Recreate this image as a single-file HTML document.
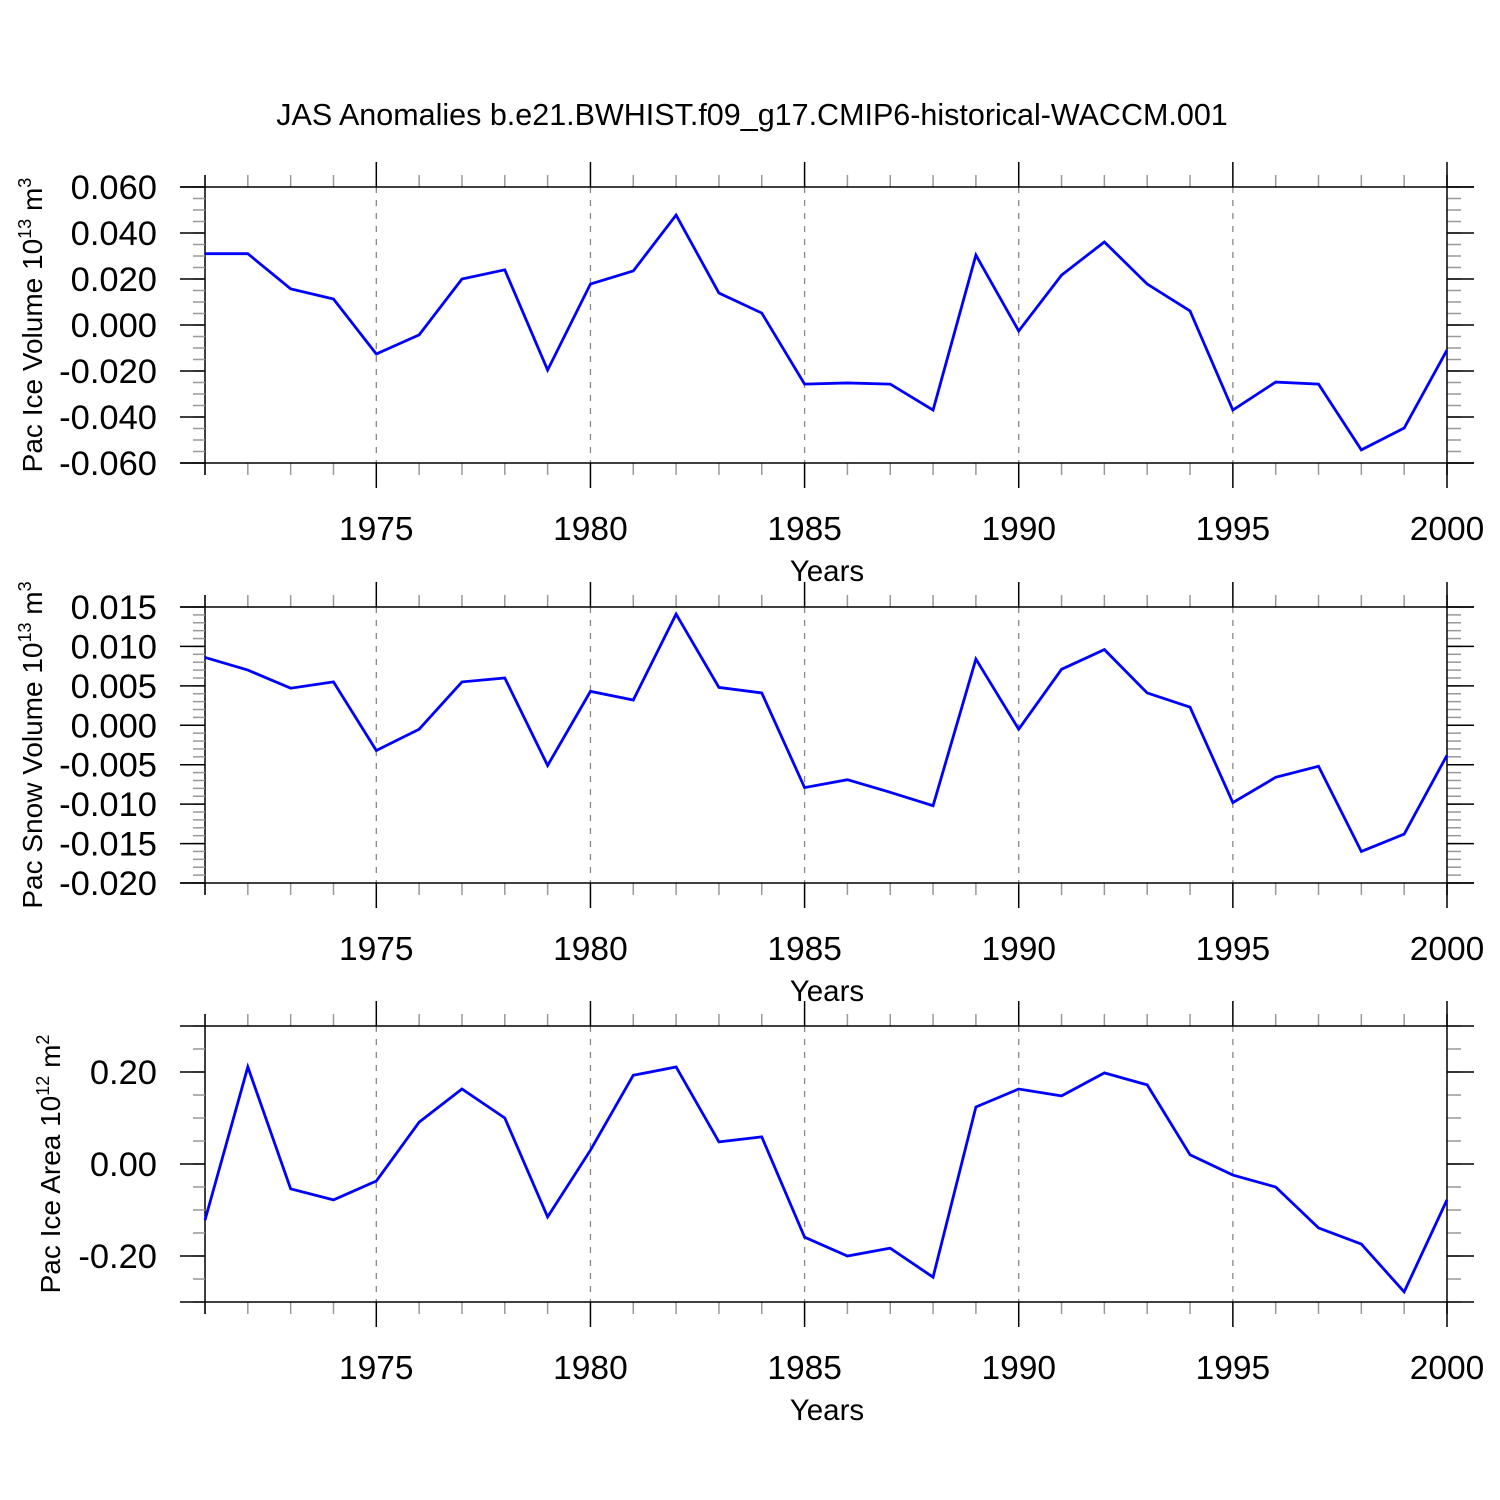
<!DOCTYPE html>
<html><head><meta charset="utf-8"><style>body{margin:0;background:#fff}svg{display:block}text{font-family:"Liberation Sans",sans-serif;fill:#000}</style></head>
<body>
<svg id="c" width="1500" height="1500" viewBox="0 0 1500 1500">
<text x="752" y="125" font-size="30.5" text-anchor="middle">JAS Anomalies b.e21.BWHIST.f09_g17.CMIP6-historical-WACCM.001</text>
</svg>
<script>
const years = [1971,1972,1973,1974,1975,1976,1977,1978,1979,1980,1981,1982,1983,1984,1985,1986,1987,1988,1989,1990,1991,1992,1993,1994,1995,1996,1997,1998,1999,2000];
const iceVolume = [0.031,0.031,0.0157,0.0113,-0.0126,-0.0043,0.020,0.024,-0.0196,0.0178,0.0235,0.0478,0.0139,0.0052,-0.0257,-0.0252,-0.0257,-0.037,0.0304,-0.0026,0.0217,0.0361,0.0178,0.0061,-0.037,-0.0248,-0.0257,-0.0543,-0.0448,-0.0109];
const snowVolume = [0.0086,0.007,0.0047,0.0055,-0.0032,-0.0005,0.0055,0.006,-0.0051,0.0043,0.0032,0.0141,0.0048,0.0041,-0.0079,-0.0069,-0.0085,-0.0102,0.0084,-0.0005,0.0071,0.0096,0.0041,0.0023,-0.0098,-0.0066,-0.0052,-0.016,-0.0138,-0.0038];
const iceArea = [-0.122,0.211,-0.054,-0.078,-0.037,0.091,0.163,0.1,-0.115,0.03,0.193,0.211,0.048,0.059,-0.159,-0.2,-0.183,-0.246,0.124,0.163,0.148,0.198,0.172,0.02,-0.024,-0.05,-0.139,-0.174,-0.278,-0.078];
const xTicks = [1975,1980,1985,1990,1995,2000];
const iceTicks = ["0.060","0.040","0.020","0.000","-0.020","-0.040","-0.060"];
const snowTicks = ["0.015","0.010","0.005","0.000","-0.005","-0.010","-0.015","-0.020"];
const areaTicks = ["0.20","0.00","-0.20"];

const svg = document.getElementById('c');
const NS = 'http://www.w3.org/2000/svg';
function mk(tag, attrs, parent){const e=document.createElementNS(NS,tag);for(const k in attrs)e.setAttribute(k,attrs[k]);(parent||svg).appendChild(e);return e;}
const L=205,R=1447;
const xs = y => L+(y-1971)*(R-L)/(2000-1971);

function panel(top, ymin, ymax, minorStep, ticks, data, name, titleMain, sup, unit, titleX){
  const bot=top+276;
  const ys = v => top+(ymax-v)*(bot-top)/(ymax-ymin);
  const g = mk('g',{});
  
  
  xTicks.forEach(t=>{ if(t<2000){ const l=mk('line',{x1:xs(t),x2:xs(t),y1:top,y2:bot,stroke:'#888','stroke-width':1.3,'stroke-dasharray':'6,7'},g);
    
    }});
  years.forEach(y=>{ const maj=xTicks.includes(y);
    mk('line',{x1:xs(y),x2:xs(y),y1:top,y2:top-(maj?25:12),stroke:maj?'#000':'#999','stroke-width':1.5},g);
    mk('line',{x1:xs(y),x2:xs(y),y1:bot,y2:bot+(maj?25:12),stroke:maj?'#000':'#999','stroke-width':1.5},g);});
  mk('line',{x1:L,x2:L,y1:top-12,y2:bot+12,stroke:'#000','stroke-width':1.5},g);
  const n=Math.round((ymax-ymin)/minorStep);
  for(let i=0;i<=n;i++){const v=ymin+i*minorStep;const y=ys(v);
    mk('line',{x1:L-12,x2:L,y1:y,y2:y,stroke:'#999','stroke-width':1.5},g);
    mk('line',{x1:R,x2:R+14,y1:y,y2:y,stroke:'#999','stroke-width':1.5},g);}
  ticks.forEach(t=>{const y=ys(parseFloat(t));
    mk('line',{x1:L-25,x2:L,y1:y,y2:y,stroke:'#000','stroke-width':1.5},g);
    mk('line',{x1:R,x2:R+27,y1:y,y2:y,stroke:'#000','stroke-width':1.5},g);
    const tx=mk('text',{x:157,y:y+12,'font-size':34.5,'text-anchor':'end'},g);tx.textContent=t;
    
    });
  mk('line',{x1:L-25,x2:R+27,y1:top,y2:top,stroke:'#000','stroke-width':1.5},g);
  mk('line',{x1:L-25,x2:R+27,y1:bot,y2:bot,stroke:'#000','stroke-width':1.5},g);
  mk('line',{x1:R,x2:R,y1:top-12,y2:bot+12,stroke:'#000','stroke-width':1.5},g);
  xTicks.forEach(t=>{const tx=mk('text',{x:xs(t),y:bot+77,'font-size':33.5,'text-anchor':'middle'},g);tx.textContent=t;
    
    });
  const xt=mk('text',{x:827,y:bot+118,'font-size':29.5,'text-anchor':'middle'},g);xt.textContent='Years';
  
  
  const yt=mk('text',{transform:`translate(${titleX},${(top+bot)/2}) rotate(-90)`,'font-size':28,'text-anchor':'middle'},g);
  
  
  const a=mk('tspan',{},yt);a.textContent=titleMain+' 10';
  const b=mk('tspan',{dy:-11,'font-size':18},yt);b.textContent=sup;
  const c=mk('tspan',{dy:11},yt);c.textContent=' m';
  const d=mk('tspan',{dy:-11,'font-size':18},yt);d.textContent=unit;
  const pts=data.map((v,i)=>xs(years[i])+','+ys(v)).join(' ');
  const pl=mk('polyline',{points:pts,fill:'none',stroke:'#0000ff','stroke-width':2.8,'stroke-linejoin':'miter'},g);
  
  
}
panel(187,-0.06,0.06,0.005,iceTicks,iceVolume,'ice-volume','Pac Ice Volume','13','3',42);
panel(607,-0.02,0.015,0.001,snowTicks,snowVolume,'snow-volume','Pac Snow Volume','13','3',42);
panel(1026,-0.3,0.3,0.05,areaTicks,iceArea,'ice-area','Pac Ice Area','12','2',60);
</script>
</body></html>
